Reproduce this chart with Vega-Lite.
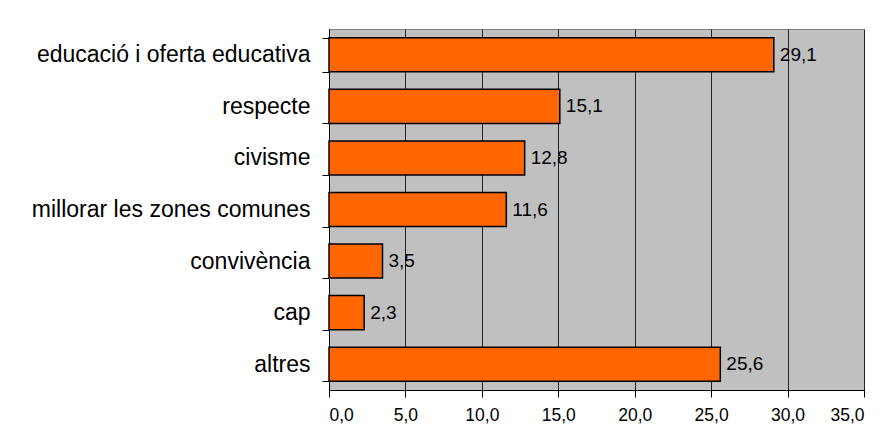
{
  "$schema": "https://vega.github.io/schema/vega-lite/v6.json",
  "width": 535,
  "height": 361,
  "autosize": {"type": "none"},
  "padding": {"left": 329, "top": 29, "right": 23, "bottom": 40},
  "background": "white",
  "config": {
    "view": {"fill": "#C0C0C0", "stroke": "#808080", "strokeWidth": 1},
    "font": "Liberation Sans",
    "locale": {"number": {"decimal": ",", "thousands": ".", "grouping": [3], "currency": ["", " €"]}}
  },
  "data": {
    "values": [
      {"cat": "educació i oferta educativa", "val": 29.1},
      {"cat": "respecte", "val": 15.1},
      {"cat": "civisme", "val": 12.8},
      {"cat": "millorar les zones comunes", "val": 11.6},
      {"cat": "convivència", "val": 3.5},
      {"cat": "cap", "val": 2.3},
      {"cat": "altres", "val": 25.6}
    ]
  },
  "encoding": {
    "y": {
      "field": "cat",
      "type": "nominal",
      "sort": null,
      "title": null,
      "scale": {"paddingInner": 0.34, "paddingOuter": 0.17},
      "axis": {
        "tickBand": "extent",
        "tickSize": 7,
        "tickColor": "#000",
        "domainColor": "#000",
        "labelColor": "#000",
        "labelFontSize": 23,
        "labelPadding": 12,
        "labelLimit": 400,
        "labelFont": "Liberation Sans",
        "grid": false
      }
    },
    "x": {
      "field": "val",
      "type": "quantitative",
      "title": null,
      "scale": {"domain": [0, 35], "nice": false},
      "axis": {
        "values": [0, 5, 10, 15, 20, 25, 30, 35],
        "format": ".1f",
        "tickSize": 7,
        "tickColor": "#000",
        "domainColor": "#000",
        "labelColor": "#000",
        "labelFontSize": 17.5,
        "labelPadding": 9,
        "labelFont": "Liberation Sans",
        "grid": true,
        "gridColor": "#222",
        "gridWidth": 1,
        "gridOpacity": 1
      }
    }
  },
  "layer": [
    {
      "mark": {"type": "bar", "color": "#FF6600", "stroke": "#000", "strokeWidth": 1.5}
    },
    {
      "mark": {"type": "text", "align": "left", "baseline": "middle", "dx": 6, "fontSize": 19, "color": "#000", "font": "Liberation Sans"},
      "encoding": {
        "text": {"field": "val", "type": "quantitative", "format": ".1f"}
      }
    }
  ]
}
